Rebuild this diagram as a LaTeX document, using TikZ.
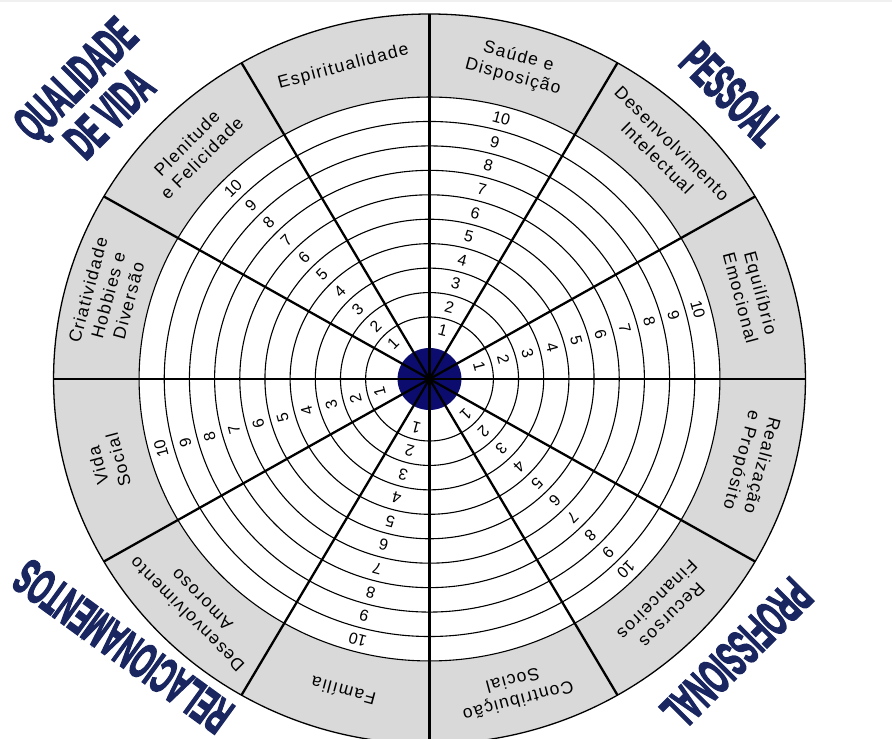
\documentclass[tikz,border=0pt]{standalone}
\usepackage{fontspec}
\usepackage{graphicx}
\setmainfont{Liberation Sans}
\newfontfamily\areafont[LetterSpace=8]{Liberation Sans}
\newfontfamily\headfont[FakeBold=4]{Liberation Sans}
\newcommand{\headtext}[1]{\scalebox{0.5}[1]{\headfont\bfseries\fontsize{50}{46}\selectfont\begin{tabular}{@{}c@{}}#1\end{tabular}}}
\definecolor{navy}{RGB}{25,38,95}
\definecolor{hubblue}{RGB}{12,12,110}
\begin{document}
\begin{tikzpicture}[x=1pt,y=1pt,every node/.style={inner sep=0pt,align=center}]
\useasboundingbox (0,0) rectangle (892,739);
\fill[gray!12] (0,736.5) rectangle (892,739);
% wheel: grey band, score rings, hub and spokes
\begin{scope}[shift={(429.5,360)},x=1.03pt]
\fill[black!15] (0,0) circle (365);
\fill[white] (0,0) circle (282);
\foreach \k in {1,...,10} {\draw[line width=1.1pt] (0,0) circle ({62+(\k-1)*24.44});}
\draw[line width=1.3pt] (0,0) circle (365);
\fill[hubblue] (0,0) circle (31);
\foreach \a in {0,30,...,330} {\draw[line width=2.3pt] (0,0) -- (\a:365);}
% area names in the grey band
\foreach \a/\txt [count=\i] in {105/Espiritualidade, 75/{Saúde e\\Disposição}, 45/{Desenvolvimento\\Intelectual}, 15/{Equilíbrio\\Emocional}, 345/{Realização\\e Propósito}, 315/{Recursos\\Financeiros}, 285/{Contribuição\\Social}, 255/Família, 225/{Desenvolvimento\\Amoroso}, 195/{Vida\\Social}, 165/{Criatividade\\Hobbies e\\Diversão}, 135/{Plenitude\\e Felicidade}} {\node[font=\areafont\fontsize{17.5}{21}\selectfont,rotate=\a-90] (area\i) at (\a:323) {\txt};}
% score numbers in every other sector
\foreach \a in {15,75,135,195,255,315} {\foreach \k in {1,...,10} {\pgfmathsetmacro{\rr}{\k==1 ? 50 : 62+(\k-1.5)*24.44} \node[font=\fontsize{16}{16}\selectfont,rotate=\a-90] (score\a-\k) at (\a:\rr) {\k};}}
\end{scope}
% quadrant titles
\node[text=navy,rotate=45] (qv) at (97,638) {\headtext{QUALIDADE\\DE VIDA}};
\node[text=navy,rotate=-45] (pessoal) at (727,640) {\headtext{PESSOAL}};
\node[text=navy,rotate=-135] (prof) at (732,90) {\headtext{PROFISSIONAL}};
\node[text=navy,rotate=144] (relac) at (127,98) {\headtext{RELACIONAMENTOS}};
\end{tikzpicture}
\end{document}
